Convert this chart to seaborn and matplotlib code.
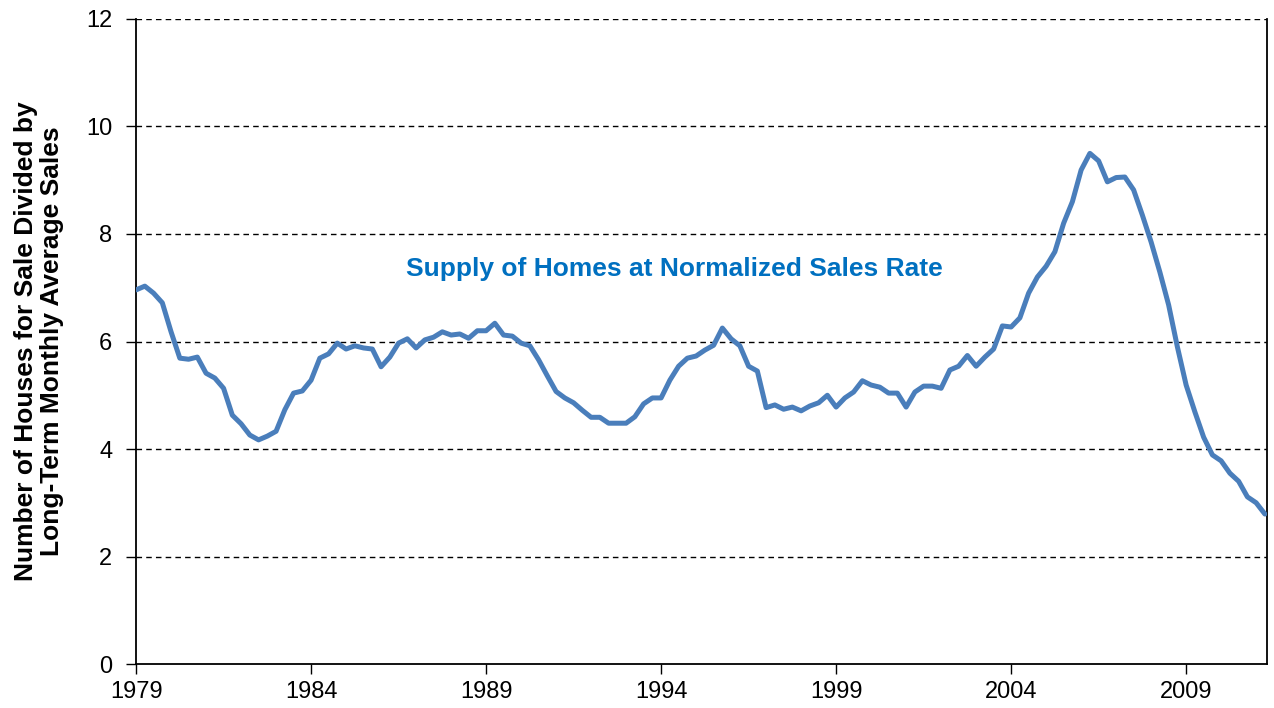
import numpy as np
import pandas as pd
import matplotlib
matplotlib.use("Agg")
import matplotlib.pyplot as plt
import seaborn as sns

start_year = 1979
supply = [
    6.96, 7.03, 6.90, 6.72, 6.18, 5.69, 5.67, 5.71, 5.41, 5.32,
    5.13, 4.63, 4.47, 4.26, 4.17, 4.24, 4.33, 4.73, 5.04, 5.08,
    5.28, 5.69, 5.77, 5.97, 5.86, 5.92, 5.88, 5.86, 5.53, 5.71,
    5.97, 6.05, 5.88, 6.03, 6.08, 6.18, 6.12, 6.14, 6.06, 6.20,
    6.20, 6.34, 6.12, 6.10, 5.97, 5.92, 5.66, 5.36, 5.07, 4.95,
    4.86, 4.72, 4.59, 4.59, 4.48, 4.48, 4.48, 4.60, 4.84, 4.95,
    4.95, 5.28, 5.54, 5.69, 5.73, 5.84, 5.93, 6.25, 6.05, 5.92,
    5.54, 5.45, 4.77, 4.82, 4.74, 4.78, 4.71, 4.80, 4.86, 5.00,
    4.78, 4.95, 5.06, 5.27, 5.19, 5.15, 5.04, 5.04, 4.78, 5.06,
    5.17, 5.17, 5.13, 5.47, 5.54, 5.74, 5.54, 5.71, 5.86, 6.29,
    6.27, 6.44, 6.90, 7.20, 7.40, 7.67, 8.20, 8.60, 9.19, 9.50,
    9.36, 8.97, 9.05, 9.06, 8.82, 8.35, 7.85, 7.29, 6.68, 5.90,
    5.19, 4.69, 4.22, 3.89, 3.78, 3.55, 3.40, 3.11, 3.00, 2.79,
]
x_ticks = [1979, 1984, 1989, 1994, 1999, 2004, 2009]
y_ticks = [0, 2, 4, 6, 8, 10, 12]
y_label = "Number of Houses for Sale Divided by\nLong-Term Monthly Average Sales"
series_label = "Supply of Homes at Normalized Sales Rate"

df = pd.DataFrame({
    "year": start_year + np.arange(len(supply)) / 4.0,
    "supply": supply,
})

sns.set_theme(style="white")
plt.rcParams["font.family"] = ["Liberation Sans", "DejaVu Sans"]

fig = plt.figure(figsize=(12.74, 7.08), dpi=100)
ax = fig.add_axes([0.1068, 0.0621, 0.8877, 0.9111])

sns.lineplot(data=df, x="year", y="supply", ax=ax, color="#4A7EBB",
             linewidth=3.6, zorder=3)

ax.set_xlim(1979, 2011.31)
ax.set_ylim(0, 12)
ax.set_xticks(x_ticks)
ax.set_yticks(y_ticks)
ax.set_xticklabels([str(t) for t in x_ticks])
ax.set_yticklabels([str(t) for t in y_ticks])

for v in y_ticks[1:]:
    ax.axhline(v, color="black", linestyle=(0, (4, 3)), linewidth=1.0, zorder=1)

for side in ["left", "bottom", "right"]:
    ax.spines[side].set_visible(True)
    ax.spines[side].set_color("black")
    ax.spines[side].set_linewidth(1.3)
ax.spines["top"].set_visible(False)

ax.tick_params(axis="both", which="major", direction="out", length=7,
               width=1.0, color="black", labelsize=17, labelcolor="black",
               bottom=True, left=True)
ax.tick_params(axis="x", pad=5)
ax.tick_params(axis="y", pad=10)

ax.set_xlabel("")
ax.set_ylabel(y_label, fontsize=19, fontweight="bold", color="black",
              labelpad=16, linespacing=1.1)

ax.text(1986.7, 7.35, series_label, color="#0070C0", fontsize=19,
        fontweight="bold", ha="left", va="center")

fig.savefig("out.png", dpi=100)
